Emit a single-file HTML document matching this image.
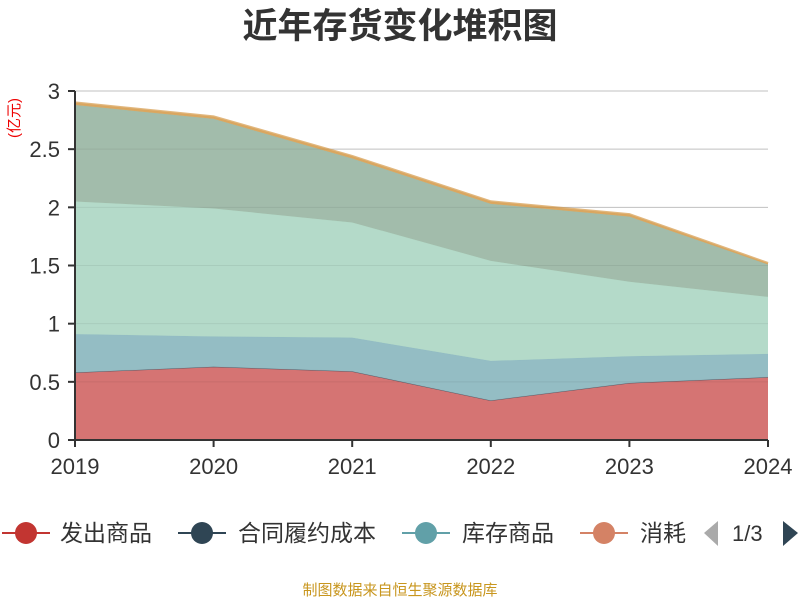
<!DOCTYPE html>
<html><head><meta charset="utf-8"><style>
body{margin:0;background:#fff;font-family:"Liberation Sans","Noto Sans CJK SC",sans-serif;}
</style></head><body>
<svg id="c" width="800" height="600" style="font-family:'Liberation Sans','Noto Sans CJK SC',sans-serif">
<text x="400" y="38" text-anchor="middle" font-size="35" font-weight="bold" fill="#333">近年存货变化堆积图</text>
<text transform="translate(19,118) rotate(-90)" text-anchor="middle" font-size="15" fill="#e00">(亿元)</text>
<g id="grid"></g><g id="areas"></g><g id="axes"></g>
<g font-size="23" fill="#333">
<g><line x1="2" y1="533" x2="50" y2="533" stroke="#c23531" stroke-width="2"/><circle cx="26" cy="533" r="11" fill="#c23531"/><text x="60" y="541">发出商品</text></g>
<g><line x1="178" y1="533" x2="226" y2="533" stroke="#2f4554" stroke-width="2"/><circle cx="202" cy="533" r="11" fill="#2f4554"/><text x="238" y="541">合同履约成本</text></g>
<g><line x1="402" y1="533" x2="450" y2="533" stroke="#61a0a8" stroke-width="2"/><circle cx="426" cy="533" r="11" fill="#61a0a8"/><text x="462" y="541">库存商品</text></g>
<g><line x1="580" y1="533" x2="628" y2="533" stroke="#d48265" stroke-width="2"/><circle cx="604" cy="533" r="11" fill="#d48265"/><text x="640" y="541">消耗</text></g>
<polygon points="704,533 718,521 718,546" fill="#aaa"/>
<text x="732" y="541" font-size="22">1/3</text>
<polygon points="798,533 783,521 783,546" fill="#2f4554"/>
</g>
<text x="400" y="595" text-anchor="middle" font-size="15" fill="#c8961e">制图数据来自恒生聚源数据库</text>
</svg>
<script>
const years=["2019","2020","2021","2022","2023","2024"];
const fahuo=[0.58,0.63,0.59,0.34,0.49,0.54];
const hetong=[0,0,0,0,0,0];
const kucun=[0.33,0.26,0.29,0.34,0.23,0.20];
const xiaohao=[1.14,1.10,0.99,0.86,0.64,0.49];
const other5=[0.83,0.77,0.55,0.49,0.56,0.28];
const other6=[0.02,0.02,0.02,0.02,0.02,0.01];
const yTicks=[0,0.5,1,1.5,2,2.5,3];
const seriesList=[[fahuo,"#d4706e","area-fahuo"],[hetong,"#3d5362","area-hetong"],[kucun,"#91bbc2","area-kucun"],[xiaohao,"#b2d9c7","area-xiaohao"],[other5,"#9fbaa8","area-series5"],[other6,"#d9a55e","area-series6"]];
const NS="http://www.w3.org/2000/svg";
const X=i=>75+i*(768-75)/(years.length-1);
const Y=v=>440-v*(440-91)/3;
function mk(t,a,p){const e=document.createElementNS(NS,t);for(const k in a)e.setAttribute(k,a[k]);p.appendChild(e);return e;}
const grid=document.getElementById('grid'),areas=document.getElementById('areas'),axes=document.getElementById('axes');
yTicks.forEach(v=>{
 const l=mk('line',{x1:75,x2:768,y1:Y(v),y2:Y(v),stroke:'#ccc'},grid);
 
 
 const t=mk('text',{x:60,y:Y(v)+8,'text-anchor':'end','font-size':22,fill:'#333'},axes);t.textContent=String(v);
 
 
 mk('line',{x1:68,x2:75,y1:Y(v),y2:Y(v),stroke:'#333','stroke-width':2},axes);
});
let base=years.map(()=>0);
seriesList.forEach(([vals,col,name])=>{
 const top=base.map((b,i)=>b+vals[i]);
 let pts=top.map((v,i)=>X(i)+','+Y(v));
 for(let i=years.length-1;i>=0;i--)pts.push(X(i)+','+Y(base[i]));
 const p=mk('polygon',{points:pts.join(' '),fill:col,'fill-opacity':0.97},areas);
 
 
 const lc=name==='area-series6'?'#d9a55e':col;
 mk('polyline',{points:top.map((v,i)=>X(i)+','+Y(v)).join(' '),fill:'none',stroke:lc,'stroke-width':name==='area-series6'?2.5:1,'stroke-opacity':0.8},areas);
 base=top;
});
yTicks.forEach(v=>{mk('line',{x1:75,x2:768,y1:Y(v),y2:Y(v),stroke:'#000','stroke-opacity':0.06},areas);});
const ax=mk('line',{x1:75,x2:75,y1:91,y2:440,stroke:'#333','stroke-width':2},axes);


const xa=mk('line',{x1:75,x2:768,y1:440,y2:440,stroke:'#333','stroke-width':2},axes);


years.forEach((y,i)=>{
 mk('line',{x1:X(i),x2:X(i),y1:440,y2:447,stroke:'#333','stroke-width':2},axes);
 const t=mk('text',{x:X(i),y:474,'text-anchor':'middle','font-size':22,fill:'#333'},axes);t.textContent=y;
 
 
});
</script>
</body></html>
